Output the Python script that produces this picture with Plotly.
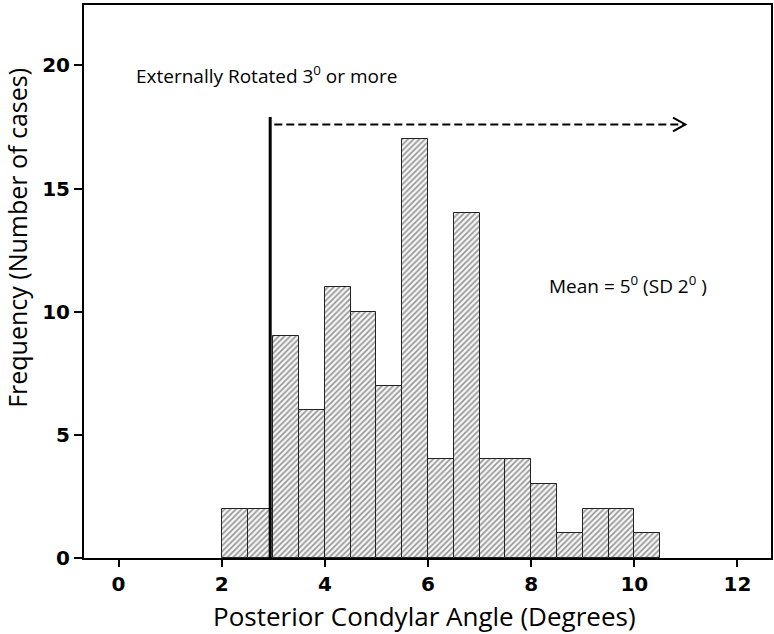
import plotly.graph_objects as go

bin_centers = [2.25, 2.75, 3.25, 3.75, 4.25, 4.75, 5.25, 5.75, 6.25, 6.75,
               7.25, 7.75, 8.25, 8.75, 9.25, 9.75, 10.25]
counts = [2, 2, 9, 6, 11, 10, 7, 17, 4, 14, 4, 4, 3, 1, 2, 2, 1]
bin_width = 0.5
x_ticks = [0, 2, 4, 6, 8, 10, 12]
y_ticks = [0, 5, 10, 15, 20]
threshold = 2.94
arrow_start = 3.02
arrow_end = 10.99
arrow_y = 17.6
line_top = 17.9

fig = go.Figure()
fig.add_trace(go.Bar(
    x=bin_centers, y=counts, width=bin_width,
    marker=dict(color="#f2f2f2",
                line=dict(color="#222222", width=1),
                pattern=dict(shape="/", fgcolor="#333333", bgcolor="#f6f6f6",
                             size=4, solidity=0.4)),
    showlegend=False,
))

# threshold vertical line
fig.add_shape(type="line", x0=threshold, x1=threshold, y0=0, y1=line_top,
              line=dict(color="black", width=3))
# dashed arrow
fig.add_shape(type="line", x0=arrow_start, x1=arrow_end, y0=arrow_y, y1=arrow_y,
              line=dict(color="black", width=2, dash="8px,4px"))
fig.add_shape(type="path",
              path=f"M {arrow_end-0.24},{arrow_y+0.28} L {arrow_end},{arrow_y} L {arrow_end-0.24},{arrow_y-0.28}",
              line=dict(color="black", width=2))

fig.add_annotation(x=0.30, y=19.6, xanchor="left", yanchor="middle", showarrow=False,
                   text="Externally Rotated 3<sup>0</sup> or more",
                   font=dict(family="Open Sans", size=19, color="black"))
fig.add_annotation(x=8.31, y=11.1, xanchor="left", yanchor="middle", showarrow=False,
                   text="Mean = 5<sup>0</sup> (SD 2<sup>0</sup> )",
                   font=dict(family="Open Sans", size=19, color="black"))

# y axis title
fig.add_annotation(xref="paper", yref="paper", x=-0.0975, y=0.579,
                   xanchor="center", yanchor="middle", showarrow=False, textangle=-90,
                   text="Frequency (Number of cases)",
                   font=dict(family="Open Sans", size=25, color="black"))
# x axis title
fig.add_annotation(xref="paper", yref="paper", x=0.495, y=-0.104,
                   xanchor="center", yanchor="middle", showarrow=False,
                   text="Posterior Condylar Angle (Degrees)",
                   font=dict(family="Open Sans", size=26, color="black"))

fig.update_layout(
    width=774, height=634,
    margin=dict(l=84, r=3, t=5, b=76),
    plot_bgcolor="white", paper_bgcolor="white",
    bargap=0,
    xaxis=dict(range=[-0.67, 12.65], tickvals=x_ticks, ticks="outside", ticklen=7,
               tickwidth=2, tickcolor="black", showgrid=False, zeroline=False,
               showline=True, linecolor="black", linewidth=2, mirror=True,
               automargin=False,
               tickfont=dict(family="DejaVu Sans", size=20, color="black", weight="bold")),
    yaxis=dict(range=[0, 22.45], tickvals=y_ticks, ticks="outside", ticklen=8,
               tickwidth=2, tickcolor="black", showgrid=False, zeroline=False,
               showline=True, linecolor="black", linewidth=2, mirror=True,
               automargin=False,
               tickfont=dict(family="DejaVu Sans", size=20, color="black", weight="bold")),
)

fig.write_html("out.html", config={"displayModeBar": False},
               post_script="document.body.style.margin='0';")
